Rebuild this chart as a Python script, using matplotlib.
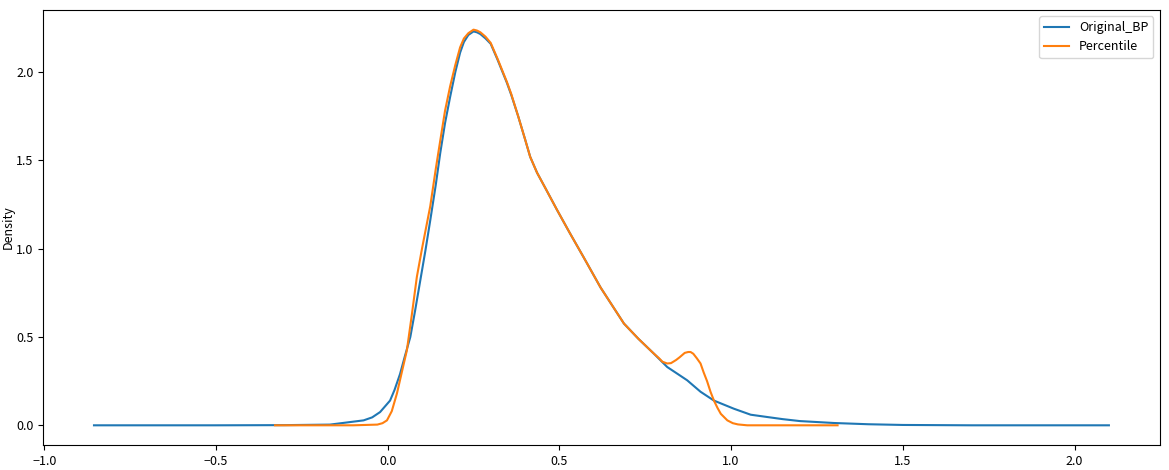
import matplotlib
matplotlib.use("Agg")
import matplotlib.pyplot as plt

plt.rcParams['font.family'] = ['Noto Sans CJK SC', 'DejaVu Sans']
plt.rcParams['font.size'] = 9

# Original_BP density curve
bp_x = [-0.855, -0.5, -0.3, -0.168, -0.07, -0.045, -0.022, 0.007, 0.02, 0.036,
        0.05, 0.066, 0.08, 0.095, 0.11, 0.124, 0.14, 0.153, 0.167, 0.182,
        0.197, 0.211, 0.222, 0.235, 0.25, 0.26, 0.27, 0.285, 0.30, 0.32,
        0.347, 0.36, 0.38, 0.40, 0.415, 0.435, 0.46, 0.493, 0.53, 0.571,
        0.62, 0.688, 0.73, 0.775, 0.814, 0.845, 0.872, 0.911, 0.95, 1.008,
        1.057, 1.105, 1.15, 1.2, 1.3, 1.4, 1.5, 1.7, 2.10]
bp_y = [0.0, 0.0, 0.001, 0.004, 0.028, 0.045, 0.075, 0.14, 0.2, 0.29,
        0.39, 0.50, 0.65, 0.82, 0.99, 1.16, 1.36, 1.54, 1.71, 1.86,
        2.0, 2.11, 2.17, 2.21, 2.23, 2.225, 2.215, 2.19, 2.16, 2.07,
        1.94, 1.87, 1.75, 1.62, 1.52, 1.43, 1.34, 1.22, 1.09, 0.95,
        0.78, 0.576, 0.49, 0.406, 0.33, 0.29, 0.255, 0.19, 0.14, 0.094,
        0.06, 0.047, 0.035, 0.024, 0.013, 0.006, 0.002, 0.0, 0.0]

# Percentile density curve
pc_x = [-0.328, -0.1, -0.03, -0.015, -0.002, 0.012, 0.027, 0.04, 0.056, 0.07,
        0.085, 0.10, 0.124, 0.14, 0.153, 0.167, 0.182, 0.197, 0.211, 0.222,
        0.235, 0.25, 0.26, 0.27, 0.285, 0.30, 0.32, 0.347, 0.36, 0.38,
        0.40, 0.415, 0.435, 0.46, 0.493, 0.53, 0.571, 0.62, 0.688, 0.73,
        0.775, 0.79, 0.80, 0.814, 0.825, 0.84, 0.85, 0.865, 0.875, 0.882,
        0.89, 0.90, 0.911, 0.92, 0.93, 0.94, 0.95, 0.96, 0.97, 0.989,
        1.005, 1.02, 1.047, 1.31]
pc_y = [0.0, 0.0, 0.004, 0.012, 0.028, 0.08, 0.18, 0.29, 0.425, 0.62,
        0.84, 1.0, 1.24, 1.45, 1.61, 1.78, 1.92, 2.04, 2.14, 2.19,
        2.22, 2.24, 2.235, 2.225, 2.2, 2.165, 2.075, 1.945, 1.875, 1.75,
        1.62, 1.52, 1.43, 1.34, 1.22, 1.09, 0.95, 0.78, 0.576, 0.49,
        0.406, 0.38, 0.36, 0.35, 0.352, 0.37, 0.385, 0.41, 0.415, 0.415,
        0.405, 0.38, 0.35, 0.3, 0.25, 0.19, 0.14, 0.1, 0.065, 0.028,
        0.012, 0.005, 0.0, 0.0]

fig, ax = plt.subplots(figsize=(11.69, 4.70), dpi=100)
fig.subplots_adjust(left=0.037, right=0.992, top=0.979, bottom=0.053)
ax.plot(bp_x, bp_y, color='#1f77b4', label='Original_BP')
ax.plot(pc_x, pc_y, color='#ff7f0e', label='Percentile')
ax.set_ylabel('Density', labelpad=1)
ax.legend(loc='upper right')
fig.savefig('out.png', dpi=100)
